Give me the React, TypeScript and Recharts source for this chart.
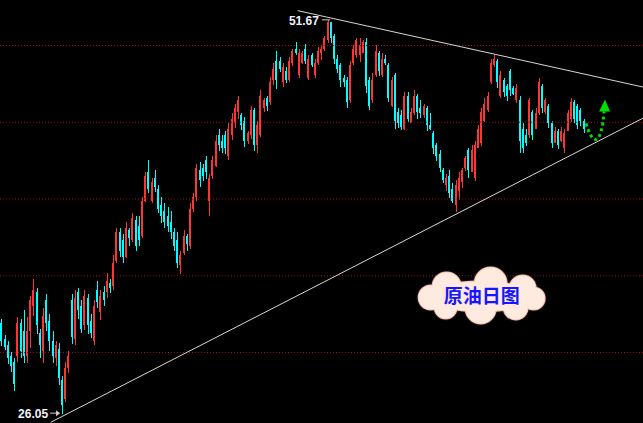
import React from "react";
import {
  ComposedChart,
  Bar,
  XAxis,
  YAxis,
  ReferenceLine,
  ReferenceDot,
} from "recharts";

// daily candles: [open, high, low, close]
const candles: [number, number, number, number][] = [
  [31.95, 32.21, 30.46, 30.78], [30.91, 31.11, 30.13, 30.39], [30.46, 30.78, 29.28, 29.61], [29.74, 30.0, 28.7, 29.09],
  [29.35, 29.67, 27.52, 27.92], [29.74, 32.28, 29.35, 31.95], [31.95, 32.21, 29.67, 30.13], [31.43, 32.74, 29.28, 29.74],
  [29.74, 32.28, 29.28, 31.43], [31.43, 33.71, 30.33, 33.39], [33.06, 34.82, 32.41, 34.04], [33.91, 34.23, 31.24, 31.76],
  [31.24, 31.56, 29.67, 30.46], [30.13, 32.87, 29.28, 32.41], [33.39, 33.84, 31.43, 31.95], [32.08, 32.54, 30.13, 30.78],
  [30.78, 31.43, 29.35, 29.8], [29.61, 30.78, 29.15, 30.46], [30.26, 30.59, 27.85, 28.31], [28.18, 28.5, 26.05, 26.61],
  [27.0, 29.35, 26.74, 28.96], [28.96, 30.13, 28.7, 29.74], [33.39, 33.84, 30.59, 31.04], [30.91, 34.04, 30.46, 33.58],
  [33.91, 34.23, 32.21, 32.74], [33.06, 33.39, 31.24, 31.56], [31.76, 34.04, 31.43, 33.65], [33.52, 33.84, 31.24, 31.76],
  [32.08, 32.54, 30.98, 31.3], [30.78, 33.39, 30.46, 33.06], [34.04, 34.69, 32.93, 33.26], [32.61, 34.04, 32.08, 33.71],
  [33.91, 34.36, 33.06, 33.39], [33.91, 35.15, 33.52, 34.69], [34.56, 34.82, 33.91, 34.17], [34.36, 36.32, 34.04, 35.86],
  [35.99, 38.14, 35.86, 37.82], [37.82, 38.08, 36.19, 36.64], [37.3, 37.75, 35.86, 36.25], [36.25, 38.47, 36.12, 38.08],
  [37.95, 38.14, 36.97, 37.43], [37.3, 39.06, 37.17, 38.73], [38.6, 38.92, 36.64, 36.97], [38.27, 38.92, 36.97, 37.3],
  [37.62, 40.1, 37.43, 39.9], [39.9, 41.73, 39.77, 41.47], [41.73, 42.51, 40.36, 40.68], [39.9, 41.34, 39.71, 41.08],
  [41.34, 41.86, 40.42, 40.81], [40.68, 40.88, 39.06, 39.38], [39.58, 40.1, 38.4, 38.92], [39.25, 39.71, 38.08, 38.47],
  [38.92, 39.45, 37.82, 38.21], [38.47, 39.25, 37.43, 37.82], [37.82, 38.14, 36.64, 36.97], [37.3, 37.82, 35.47, 35.86],
  [35.67, 36.64, 35.15, 36.32], [36.51, 37.95, 36.32, 37.62], [37.56, 37.75, 36.64, 37.04], [36.97, 39.77, 36.78, 39.38],
  [39.38, 40.36, 39.12, 40.1], [40.1, 42.31, 39.9, 42.05], [41.86, 42.38, 40.75, 41.21], [41.99, 42.31, 41.21, 41.53],
  [42.51, 42.83, 41.34, 41.73], [39.9, 41.66, 38.92, 41.34], [41.53, 42.83, 41.34, 42.51], [42.18, 44.14, 42.05, 43.81],
  [44.14, 44.59, 43.16, 43.49], [43.81, 44.14, 42.96, 43.29], [44.14, 44.46, 42.96, 43.29], [42.83, 44.92, 42.51, 44.59],
  [44.14, 45.57, 43.81, 45.24], [44.98, 46.22, 44.66, 45.9], [45.64, 46.74, 45.24, 46.42], [45.44, 45.57, 44.46, 44.79],
  [45.11, 45.31, 43.35, 43.81], [43.81, 44.46, 43.62, 44.27], [44.14, 46.09, 43.94, 45.77], [45.77, 45.96, 43.16, 43.49],
  [43.49, 45.11, 43.03, 44.79], [44.14, 47.07, 44.01, 46.74], [45.9, 46.55, 45.64, 46.42], [46.55, 46.74, 45.77, 46.09],
  [46.29, 47.92, 46.09, 47.59], [47.72, 48.83, 47.39, 48.5], [49.02, 49.67, 47.2, 47.72], [49.02, 49.22, 48.24, 48.5],
  [47.59, 48.83, 47.26, 48.63], [48.37, 48.57, 47.52, 47.72], [47.72, 49.22, 47.59, 49.02], [48.89, 49.8, 48.7, 49.67],
  [49.8, 50.2, 49.35, 49.54], [48.05, 49.8, 47.92, 49.54], [48.89, 49.67, 48.83, 49.54], [49.8, 50.13, 48.83, 49.02],
  [47.85, 49.35, 47.72, 49.15], [49.35, 49.48, 48.57, 48.7], [48.05, 49.15, 47.92, 48.89], [48.83, 49.87, 48.7, 49.67],
  [49.54, 50.0, 49.02, 49.8], [49.8, 50.65, 49.67, 50.46], [50.33, 51.67, 50.2, 51.5], [51.5, 51.56, 50.2, 50.46],
  [50.65, 50.78, 48.83, 49.15], [49.15, 49.35, 48.18, 48.5], [48.7, 48.83, 47.26, 47.72], [47.85, 48.05, 47.26, 47.59],
  [47.72, 47.92, 45.9, 46.29], [46.42, 49.02, 46.29, 48.7], [48.89, 50.0, 48.7, 49.8], [49.35, 50.52, 49.22, 50.33],
  [49.35, 50.46, 48.89, 50.0], [49.54, 50.33, 49.48, 50.2], [50.2, 50.46, 46.87, 47.39], [47.72, 47.92, 45.77, 46.09],
  [46.42, 48.18, 46.22, 47.72], [48.05, 50.0, 47.92, 49.67], [49.54, 49.67, 48.05, 48.37], [48.05, 49.48, 47.92, 49.15],
  [49.15, 49.35, 48.7, 48.89], [48.7, 48.83, 46.29, 46.55], [46.09, 47.92, 45.96, 47.72], [48.05, 48.24, 44.59, 45.11],
  [45.64, 45.96, 44.66, 44.98], [45.44, 45.77, 44.46, 44.72], [44.59, 46.94, 44.46, 46.74], [46.74, 46.94, 44.98, 45.24],
  [44.98, 45.9, 44.92, 45.64], [45.57, 47.07, 45.44, 46.74], [46.74, 46.87, 45.24, 45.64], [45.9, 46.42, 45.24, 45.57],
  [45.44, 46.22, 45.31, 46.03], [45.96, 46.09, 44.46, 44.79], [44.79, 45.57, 44.46, 44.59], [44.33, 44.46, 42.96, 43.29],
  [43.49, 43.68, 42.51, 42.83], [42.96, 43.16, 41.73, 41.99], [41.86, 41.99, 41.01, 41.21], [40.88, 41.66, 40.55, 41.34],
  [41.53, 41.86, 40.03, 40.36], [40.68, 41.01, 39.71, 39.9], [39.58, 41.21, 39.12, 40.88], [40.55, 41.73, 39.9, 41.4],
  [41.08, 42.05, 40.75, 41.86], [41.99, 42.83, 41.86, 42.64], [43.16, 43.35, 41.4, 41.86], [41.73, 43.49, 41.73, 43.16],
  [41.34, 43.81, 41.21, 43.49], [43.35, 44.79, 43.35, 44.59], [43.62, 45.96, 43.49, 45.64], [45.11, 46.55, 44.98, 46.22],
  [45.77, 46.94, 45.64, 46.74], [47.59, 49.15, 47.52, 48.89], [48.7, 49.35, 48.57, 49.15], [49.02, 49.15, 47.26, 47.59],
  [46.74, 48.37, 46.61, 48.05], [47.72, 47.85, 46.61, 46.94], [47.39, 47.52, 46.42, 46.74], [48.37, 48.5, 46.74, 47.07],
  [47.2, 47.33, 46.74, 46.87], [46.42, 47.52, 46.29, 47.2], [46.42, 46.74, 43.03, 43.81], [44.59, 44.92, 42.96, 43.29],
  [44.14, 44.59, 43.49, 43.68], [44.14, 46.61, 44.01, 46.42], [45.64, 45.77, 43.81, 44.14], [44.59, 45.9, 44.59, 45.57],
  [45.57, 47.85, 45.44, 47.59], [47.39, 47.52, 45.64, 45.9], [45.64, 46.61, 45.57, 46.42], [46.09, 46.22, 44.66, 44.98],
  [44.98, 45.11, 43.35, 43.68], [43.68, 44.66, 43.62, 44.46], [44.46, 44.59, 43.29, 43.49], [43.81, 44.66, 43.68, 44.46],
  [43.29, 44.59, 43.03, 44.27], [44.46, 45.77, 44.46, 45.57], [45.24, 46.55, 44.98, 46.29], [46.29, 46.42, 44.92, 45.24],
  [46.09, 46.22, 44.59, 44.79], [45.77, 45.96, 44.79, 45.11], [45.11, 45.24, 44.33, 44.59],
];

// slots on the time axis (the right part stays empty for the trend lines)
const SLOTS = 201;
const gridLevels = [30, 35, 40, 45, 50];
const upperTrend = [{ x: 92.6, y: 52.27 }, { x: 200.5, y: 47.27 }];
const lowerTrend = [{ x: 15.75, y: 25.45 }, { x: 200.5, y: 45.32 }];
const peak = { index: 102, value: 51.67 };
const trough = { index: 19, value: 26.05 };
const badge = { x: 149.5, y: 33.65, text: "原油日图" };
const hint = { x: 185.4, y: 43.88 };

const UP = "#ff3535";
const DOWN = "#00ffff";
const W = 643;
const H = 423;

const data = Array.from({ length: SLOTS }, (_, i) => {
  const k = candles[i];
  return k
    ? { i, o: k[0], h: k[1], l: k[2], c: k[3], range: [k[2], k[1]] }
    : { i };
});

function Candle(props: any) {
  const { x, y, width, height, payload } = props;
  if (!payload || payload.o == null) return null;
  const { o, h, l, c } = payload;
  const top = Math.min(y, y + height);
  const full = Math.abs(height);
  const toY = (v: number) => top + ((h - v) / (h - l)) * full;
  const cx = Math.floor(x + width / 2);
  const color = c >= o ? UP : DOWN;
  const bTop = Math.round(toY(Math.max(o, c)));
  const bBot = Math.round(toY(Math.min(o, c)));
  return (
    <g>
      <rect x={cx} y={Math.round(top)} width={1} height={Math.max(1, Math.round(full))} fill={color} />
      <rect x={cx - 1} y={bTop} width={2} height={Math.max(1, bBot - bTop)} fill={color} />
    </g>
  );
}

const labelFont = {
  fontFamily: "Liberation Sans, Arial, sans-serif",
  fontSize: 12,
  fontWeight: 700,
};

function PeakTag({ cx, cy }: any) {
  return (
    <g>
      <line x1={cx - 6} y1={cy} x2={cx + 2} y2={cy} stroke="#cfcfcf" />
      <text x={cx - 9} y={cy + 5} textAnchor="end" fill="#eef2fa" {...labelFont}>
        {peak.value.toFixed(2)}
      </text>
    </g>
  );
}

function TroughTag({ cx, cy }: any) {
  return (
    <g>
      <line x1={cx - 11} y1={cy} x2={cx - 2} y2={cy} stroke="#cfcfcf" />
      <path d={`M${cx - 1},${cy} L${cx - 5},${cy - 3} L${cx - 5},${cy + 3} Z`} fill="#cfcfcf" />
      <text x={cx - 13} y={cy + 5} textAnchor="end" fill="#eef2fa" {...labelFont}>
        {trough.value.toFixed(2)}
      </text>
    </g>
  );
}

const puffs: [number, number, number][] = [
  [-34, -10, 14], [10, -13, 16], [42, -8, 13], [53, 2, 11],
  [-50, 1, 12], [-35, 11, 11], [0, 12, 15], [35, 11, 12],
];

function Cloud({ cx, cy }: any) {
  const shapes = (props: any) => (
    <>
      <ellipse cx={cx} cy={cy} rx={50} ry={15} {...props} />
      {puffs.map(([dx, dy, r], k) => (
        <circle key={k} cx={cx + dx} cy={cy + dy} r={r} {...props} />
      ))}
    </>
  );
  return (
    <g>
      {shapes({ fill: "#5a3030", stroke: "#5a3030", strokeWidth: 4, opacity: 0.35 })}
      {shapes({ fill: "#ffeadf", stroke: "#f0c4b8", strokeWidth: 2 })}
      {shapes({ fill: "#ffeadf" })}
      <text
        x={cx + 1}
        y={cy + 7}
        textAnchor="middle"
        fill="#1717ff"
        fontSize={19}
        fontWeight={700}
        fontFamily="Noto Sans CJK SC, sans-serif"
      >
        {badge.text}
      </text>
    </g>
  );
}

function UpHint({ cx, cy }: any) {
  return (
    <g>
      <path
        d={`M${cx - 10},${cy - 16} Q${cx - 5},${cy + 1} ${cx},${cy} Q${cx + 6},${cy - 2} ${cx + 8},${cy - 28}`}
        fill="none"
        stroke="#00dd00"
        strokeWidth={3}
        strokeDasharray="3 3"
      />
      <path d={`M${cx + 9},${cy - 40} L${cx + 3},${cy - 28} L${cx + 14},${cy - 28} Z`} fill="#00dd00" />
    </g>
  );
}

export default function App() {
  return (
    <div style={{ position: "fixed", left: 0, top: 0, width: W, height: H, background: "#000" }}>
      <ComposedChart width={W} height={H} data={data} margin={{ top: 0, right: 0, bottom: 0, left: 0 }}>
        <XAxis xAxisId="cat" dataKey="i" type="category" hide />
        <XAxis xAxisId="num" type="number" domain={[-0.5, SLOTS - 0.5]} allowDataOverflow hide />
        <YAxis type="number" domain={[25.407, 52.964]} allowDataOverflow hide />
        {gridLevels.map((v) => (
          <ReferenceLine key={v} xAxisId="num" y={v} stroke="#9c0f0f" strokeDasharray="1 2" />
        ))}
        <Bar xAxisId="cat" dataKey="range" shape={<Candle />} isAnimationActive={false} />
        <ReferenceLine xAxisId="num" segment={upperTrend} stroke="#d6d6d6" ifOverflow="visible" />
        <ReferenceLine xAxisId="num" segment={lowerTrend} stroke="#d6d6d6" ifOverflow="visible" />
        <ReferenceDot xAxisId="num" x={peak.index} y={peak.value} r={0} shape={(p: any) => <PeakTag {...p} />} />
        <ReferenceDot xAxisId="num" x={trough.index} y={trough.value} r={0} shape={(p: any) => <TroughTag {...p} />} />
        <ReferenceDot xAxisId="num" x={hint.x} y={hint.y} r={0} shape={(p: any) => <UpHint {...p} />} />
        <ReferenceDot xAxisId="num" x={badge.x} y={badge.y} r={0} shape={(p: any) => <Cloud {...p} />} />
      </ComposedChart>
    </div>
  );
}
